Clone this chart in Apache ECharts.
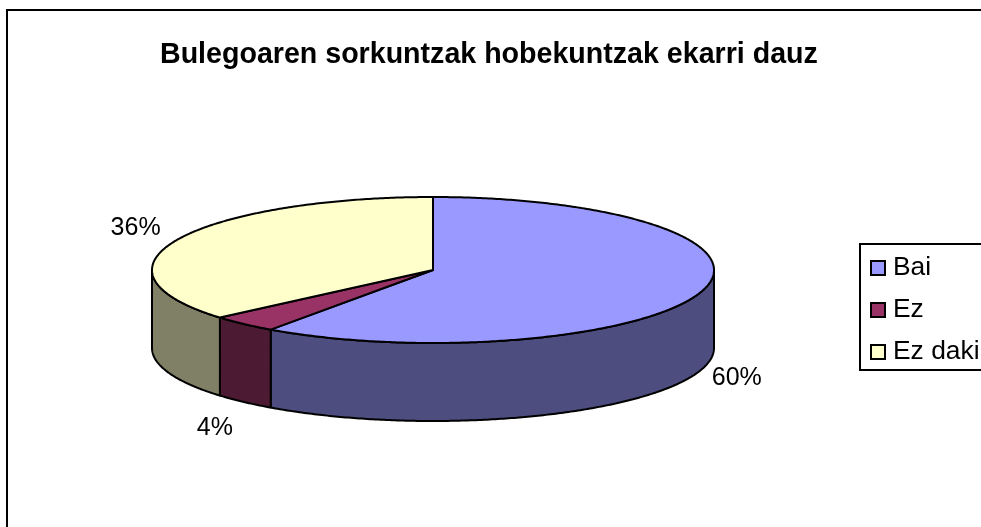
<!DOCTYPE html>
<html>
<head>
<meta charset="utf-8">
<style>html,body{margin:0;padding:0;background:#fff;overflow:hidden}#c{width:981px;height:527px}</style>
<script src="https://cdn.jsdelivr.net/npm/echarts@6/dist/echarts.min.js"></script>
</head>
<body>
<div id="c"></div>
<script>
var titleText = 'Bulegoaren sorkuntzak hobekuntzak ekarri dauz';
var categories = ['Bai', 'Ez', 'Ez daki'];
var values = [59.8, 3.9, 36.3];
var topColors = ['#9999FF', '#993366', '#FFFFCC'];
var sideColors = ['#4D4D80', '#4D1A33', '#808066'];

var FONT = '"Liberation Sans", Arial, sans-serif';
var CX = 433, CY = 270, RX = 281, RY = 73, DEPTH = 78;
var labelOffsets = [[36, 8], [-29, 26], [-42, -11]];
var total = values.reduce(function (a, b) { return a + b; }, 0);

function pt(a, dy) {
  return [CX + Math.sin(a) * RX, CY - Math.cos(a) * RY + (dy || 0)];
}
function arc(a0, a1, dy) {
  var n = Math.max(2, Math.ceil(Math.abs(a1 - a0) / 0.01)), out = [];
  for (var i = 0; i <= n; i++) out.push(pt(a0 + (a1 - a0) * i / n, dy));
  return out;
}
var stroke = { stroke: '#000', lineWidth: 2, lineJoin: 'round' };
function styled(fill) { return Object.assign({ fill: fill }, stroke); }

var acc = 0;
var series = categories.map(function (name, i) {
  var start = acc / total, end = (acc + values[i]) / total;
  acc += values[i];
  return {
    type: 'custom',
    name: name,
    coordinateSystem: 'none',
    silent: true,
    animation: false,
    itemStyle: { color: topColors[i] },
    data: [[start, end, values[i]]],
    renderItem: function (params, api) {
      var a0 = api.value(0) * 2 * Math.PI, a1 = api.value(1) * 2 * Math.PI;
      var children = [];
      var s0 = Math.max(a0, Math.PI / 2), s1 = Math.min(a1, 3 * Math.PI / 2);
      if (s1 > s0) {
        children.push({
          type: 'polygon',
          shape: { points: arc(s0, s1, 0).concat(arc(s1, s0, DEPTH)) },
          style: styled(sideColors[i])
        });
      }
      children.push({
        type: 'polygon',
        shape: { points: [[CX, CY]].concat(arc(a0, a1, 0)) },
        style: styled(topColors[i])
      });
      var mid = (a0 + a1) / 2;
      var anchor = pt(mid, Math.cos(mid) < 0 ? DEPTH : 0);
      children.push({
        type: 'text',
        style: {
          x: anchor[0] + labelOffsets[i][0],
          y: anchor[1] + labelOffsets[i][1],
          text: Math.round(api.value(2) / total * 100) + '%',
          font: '25px ' + FONT,
          fill: '#000',
          align: 'center',
          verticalAlign: 'middle'
        }
      });
      return { type: 'group', children: children };
    }
  };
});

var chart = echarts.init(document.getElementById('c'), null, { renderer: 'canvas' });
chart.setOption({
  backgroundColor: '#fff',
  animation: false,
  title: {
    text: titleText,
    left: 160,
    top: 41,
    padding: 0,
    textStyle: { fontFamily: FONT, fontSize: 28.6, fontWeight: 'bold', color: '#000' }
  },
  legend: {
    data: categories,
    orient: 'vertical',
    left: 860,
    top: 244,
    padding: [11, 12, 5, 10],
    itemWidth: 14,
    itemHeight: 14,
    itemGap: 16,
    icon: 'rect',
    borderColor: '#000',
    borderWidth: 2,
    selectedMode: false,
    itemStyle: { borderColor: '#000', borderWidth: 2 },
    textStyle: { fontFamily: FONT, fontSize: 26.4, color: '#000', padding: [0, 0, 0, 3] }
  },
  graphic: [{
    type: 'rect',
    silent: true,
    shape: { x: 7, y: 10, width: 1100, height: 700 },
    style: { fill: 'none', stroke: '#000', lineWidth: 2 }
  }],
  series: series
});
</script>
</body>
</html>
